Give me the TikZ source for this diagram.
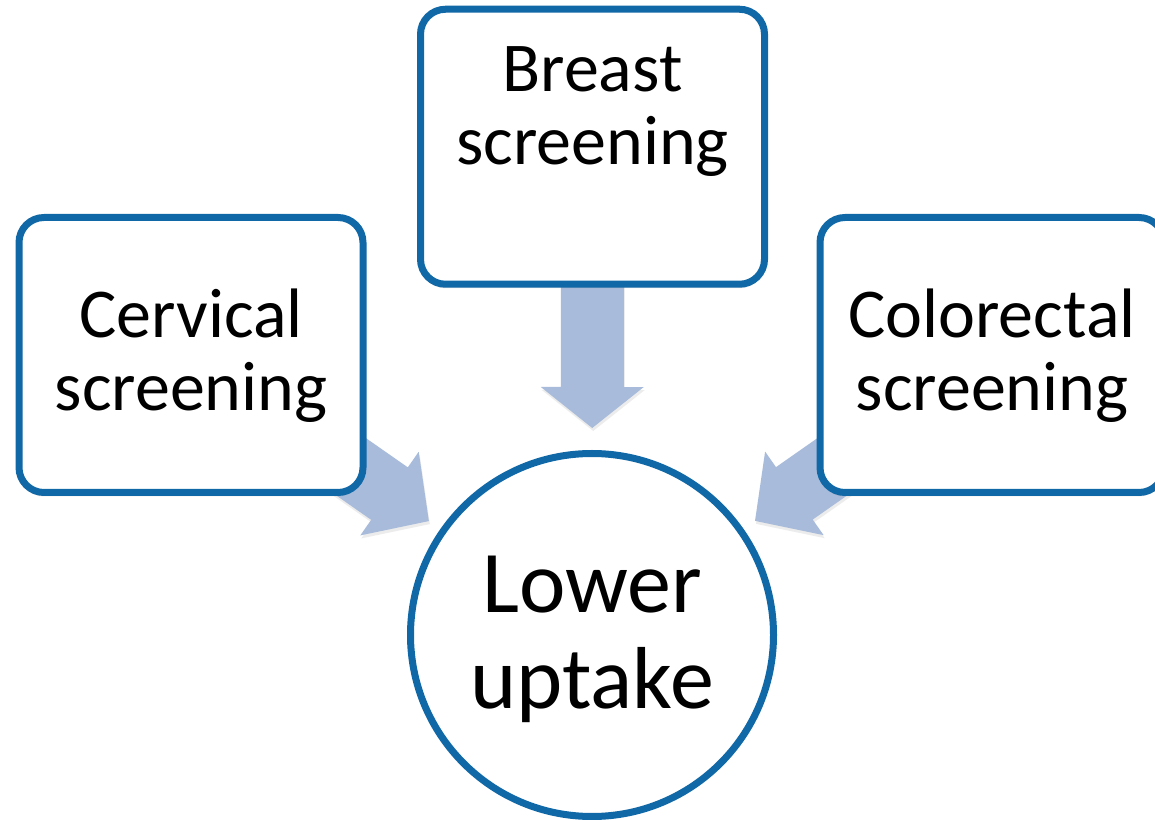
\documentclass[tikz,border=0pt]{standalone}
\usepackage{fontspec}
\setmainfont{Carlito}
\usetikzlibrary{calc,shadows,backgrounds}
\definecolor{bordblue}{RGB}{17,104,167}
\definecolor{arrfill}{RGB}{168,187,218}
\newcommand\boxtext[2]{\raisebox{#1}[0pt][0pt]{\begin{tabular}[t]{@{}c@{}}#2\end{tabular}}}
% #1 source node, #2 target node, #3 tip distance from target centre, #4 head length, #5 shaft half width, #6 head half width
\newcommand\blkarrow[6]{%
  \coordinate (T) at ($(#2)!#3!(#1)$);
  \coordinate (S) at ($(#2)!400pt!(#1)$);
  \coordinate (H) at ($(T)!#4!(S)$);
  \fill[blockarrow] ($(S)!#5!90:(T)$) -- ($(H)!#5!90:(T)$) -- ($(H)!#6!90:(T)$) -- (T)
     -- ($(H)!#6!-90:(T)$) -- ($(H)!#5!-90:(T)$) -- ($(S)!#5!-90:(T)$) -- cycle;
}
\begin{document}
\begin{tikzpicture}[x=1pt,y=1pt,
  screenbox/.style={draw=bordblue, line width=7pt, rounded corners=25pt, fill=white,
    minimum width=344pt, minimum height=275pt, inner sep=0pt,
    font=\fontsize{70}{73}\selectfont,
    drop shadow={opacity=0.18, shadow xshift=0pt, shadow yshift=-4pt}},
  hub/.style={draw=bordblue, line width=7pt, circle, fill=white, minimum size=363pt,
    inner sep=0pt, font=\fontsize{88}{95}\selectfont},
  blockarrow/.style={fill=arrfill, drop shadow={opacity=0.15, shadow xshift=1pt, shadow yshift=-3pt}}]
\useasboundingbox (0,0) rectangle (1155,819);
\node[screenbox] (breast) at (592.5,672.25) {\boxtext{54.75pt}{Breast\\screening}};
\node[screenbox] (cerv) at (191,464) {\boxtext{17pt}{Cervical\\screening}};
\node[screenbox] (colo) at (992,464) {\boxtext{17pt}{Colorectal\\screening}};
\node[hub] (low) at (592,184) {\boxtext{22pt}{Lower\\uptake}};
\begin{scope}[on background layer]
  \fill[white] (0,0) rectangle (1155,819);
  \blkarrow{breast}{low}{207pt}{41pt}{31.5pt}{51.5pt}
  \blkarrow{cerv}{low}{199pt}{48pt}{32pt}{51pt}
  \blkarrow{colo}{low}{199pt}{48pt}{32pt}{51pt}
\end{scope}
\end{tikzpicture}
\end{document}
